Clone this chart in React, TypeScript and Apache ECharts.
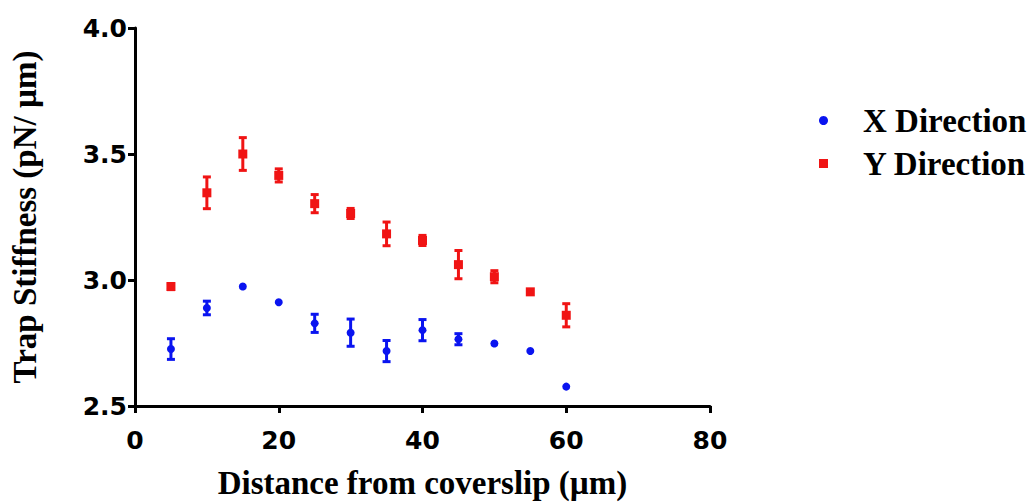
import React, { useEffect, useRef } from "react";
import * as echarts from "echarts";

const distances = [5, 10, 15, 20, 25, 30, 35, 40, 45, 50, 55, 60];
const xDirMean = [2.726, 2.889, 2.974, 2.912, 2.828, 2.791, 2.718, 2.801, 2.765, 2.748, 2.718, 2.577];
const xDirErr = [0.041, 0.027, 0, 0, 0.036, 0.054, 0.042, 0.042, 0.022, 0, 0, 0];
const yDirMean = [2.974, 3.346, 3.5, 3.415, 3.303, 3.264, 3.183, 3.157, 3.061, 3.013, 2.953, 2.86];
const yDirErr = [0.012, 0.063, 0.065, 0.026, 0.036, 0.02, 0.047, 0.02, 0.056, 0.024, 0, 0.046];

const seriesNames = ["X Direction", "Y Direction"];
const colors = ["#0a14f0", "#f01414"];

function errorSeries(name: string, means: number[], errs: number[], color: string) {
  const data = distances.map((d, i) => [d, means[i] - errs[i], means[i] + errs[i]]);
  return {
    type: "custom",
    name: name + " error",
    z: 1,
    data,
    encode: { x: 0, y: [1, 2] },
    renderItem: (params: any, api: any) => {
      const x = api.value(0);
      const lo = api.coord([x, api.value(1)]);
      const hi = api.coord([x, api.value(2)]);
      if (Math.abs(hi[1] - lo[1]) < 1) return { type: "group", children: [] };
      const hw = 4;
      const style = { stroke: color, lineWidth: 3 };
      return {
        type: "group",
        children: [
          { type: "line", shape: { x1: lo[0], y1: lo[1], x2: hi[0], y2: hi[1] }, style },
          { type: "line", shape: { x1: lo[0] - hw, y1: lo[1], x2: lo[0] + hw, y2: lo[1] }, style },
          { type: "line", shape: { x1: hi[0] - hw, y1: hi[1], x2: hi[0] + hw, y2: hi[1] }, style },
        ],
      };
    },
  };
}

export default function App() {
  const ref = useRef<HTMLDivElement>(null);
  useEffect(() => {
    if (!ref.current) return;
    const chart = echarts.init(ref.current, null, { renderer: "svg" });
    const tickFont = { fontFamily: "DejaVu Sans", fontWeight: "bold", fontSize: 25, color: "#000" };
    const titleFont = { fontFamily: "Liberation Serif", fontWeight: "bold", fontSize: 33, color: "#000" };
    chart.setOption({
      animation: false,
      backgroundColor: "#fff",
      grid: { left: 133, right: 324, top: 28, bottom: 93, containLabel: false },
      legend: {
        data: seriesNames,
        orient: "vertical",
        left: 814,
        top: 99,
        itemWidth: 9,
        itemHeight: 9,
        itemGap: 10,
        textStyle: { ...titleFont, lineHeight: 32, padding: [0, 0, 0, 30] },
      },
      xAxis: {
        type: "value",
        min: 0,
        max: 80,
        interval: 20,
        name: "Distance from coverslip (µm)",
        nameLocation: "middle",
        nameGap: 60,
        nameTextStyle: titleFont,
        axisLine: { onZero: false, lineStyle: { color: "#000", width: 3 } },
        axisTick: { show: true, length: 7, lineStyle: { color: "#000", width: 3 } },
        axisLabel: { ...tickFont, margin: 22 },
        splitLine: { show: false },
      },
      yAxis: {
        type: "value",
        min: 2.5,
        max: 4.0,
        interval: 0.5,
        name: "Trap Stiffness (pN/ µm)",
        nameLocation: "middle",
        nameGap: 94,
        nameTextStyle: titleFont,
        axisLine: { onZero: false, lineStyle: { color: "#000", width: 3 } },
        axisTick: { show: true, length: 7, lineStyle: { color: "#000", width: 3 } },
        axisLabel: { ...tickFont, margin: 8, formatter: (v: number) => v.toFixed(1) },
        splitLine: { show: false },
      },
      series: [
        errorSeries(seriesNames[0], xDirMean, xDirErr, colors[0]),
        errorSeries(seriesNames[1], yDirMean, yDirErr, colors[1]),
        {
          type: "scatter",
          name: seriesNames[0],
          symbol: "circle",
          symbolSize: 8,
          z: 2,
          itemStyle: { color: colors[0], opacity: 1 },
          data: distances.map((d, i) => [d, xDirMean[i]]),
        },
        {
          type: "scatter",
          name: seriesNames[1],
          symbol: "rect",
          symbolSize: 9,
          z: 2,
          itemStyle: { color: colors[1], opacity: 1 },
          data: distances.map((d, i) => [d, yDirMean[i]]),
        },
      ],
    });
    return () => chart.dispose();
  }, []);
  return <div ref={ref} style={{ position: "fixed", left: 0, top: 0, width: 1034, height: 504 }} />;
}
